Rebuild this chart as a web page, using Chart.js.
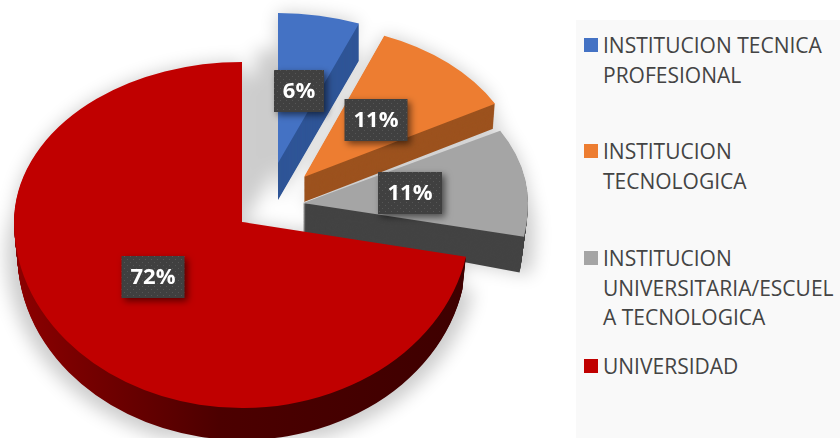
<!DOCTYPE html>
<html>
<head>
<meta charset="utf-8">
<script src="https://cdn.jsdelivr.net/npm/chart.js@4"></script>
<style>
  html, body { margin: 0; padding: 0; background: #fff; }
  #wrap { position: relative; width: 840px; height: 438px; overflow: hidden; }
  #pie { position: absolute; left: 0; top: 0; }
  #shadow { position: absolute; left: 0; top: 0; filter: blur(9px); opacity: 0.2; }
  #legend { position: absolute; left: 576px; top: 20px; width: 264px; height: 418px; background: #f9f9f9; }
  .item { position: absolute; left: 27px; font: 21px/29.5px "Open Sans", sans-serif; color: #444; white-space: nowrap; }
  .item i { position: absolute; left: -19px; top: 7px; width: 14px; height: 14px; }
</style>
</head>
<body>
<div id="wrap">
  <canvas id="shadow" width="840" height="438"></canvas>
  <canvas id="pie" width="840" height="438"></canvas>
  <div id="legend"></div>
</div>
<script>
// datos
const categories = ['INSTITUCION TECNICA PROFESIONAL', 'INSTITUCION TECNOLOGICA', 'INSTITUCION UNIVERSITARIA/ESCUELA TECNOLOGICA', 'UNIVERSIDAD'];
const values = [6, 11, 11, 72];
const legendLines = [
  ['INSTITUCION TECNICA', 'PROFESIONAL'],
  ['INSTITUCION', 'TECNOLOGICA'],
  ['INSTITUCION', 'UNIVERSITARIA/ESCUEL', 'A TECNOLOGICA'],
  ['UNIVERSIDAD'],
];

// estilo
const colors = ['#4472c4', '#ed7d31', '#a5a5a5', '#c00000'];
const sideColors = ['#2f5597', '#9c521e', '#434343', null];
const legendTops = [11, 117, 224, 332];

// porcion separada: desplazamiento desde el centro, radios de la elipse y grosor
const explodeX = [35, 61, 60, -1];
const explodeY = [-59, -45, -19, 0];
const radiusX = [220, 218, 225, 228];
const radiusUp = [150, 152, 150, 160];
const radiusDown = [150, 150, 180, 186];
const depth = [37, 25, 29, 32];
const shrinkX = [0, 0.01, 0.02, 0.015];
const growDown = [0, 0, 0.2, 0];
const labelX = [299, 376, 410, 153];
const labelY = [91, 120, 193, 277];
const labelW = [50, 63, 64, 63];

// leyenda
const legendEl = document.getElementById('legend');
legendLines.forEach((lines, i) => {
  const d = document.createElement('div');
  d.className = 'item';
  d.style.top = legendTops[i] + 'px';
  d.innerHTML = '<i style="background:' + colors[i] + '"></i>' + lines.join('<br>');
  legendEl.appendChild(d);
});

function drawSlice(ctx, el, i, t, fill, grow = 1, dx = 0, dy = 0) {
  const R = el.outerRadius;
  const ax = el.x + explodeX[i] + dx;
  const ay = el.y + explodeY[i] + depth[i] * t + dy;
  const sx = radiusX[i] / R * (1 - shrinkX[i] * t) * grow;
  const up = radiusUp[i] / R * grow;
  const down = radiusDown[i] / R * (1 + growDown[i] * t) * grow;
  const saved = el.options;
  el.options = Object.assign({}, saved, { backgroundColor: fill, borderWidth: 0 });
  // arriba y abajo del vertice la elipse tiene distinta altura (perspectiva)
  [[up, ay - 600, 600.5], [down, ay, 600]].forEach(([sy, top, h]) => {
    ctx.save();
    ctx.beginPath();
    ctx.rect(0, top, 840, h);
    ctx.clip();
    ctx.translate(ax, ay);
    ctx.scale(sx, sy);
    ctx.translate(-el.x, -el.y);
    el.draw(ctx);
    ctx.restore();
  });
  el.options = saved;
}

function dotPattern(ctx) {
  const c = document.createElement('canvas');
  c.width = 6; c.height = 6;
  const p = c.getContext('2d');
  p.fillStyle = '#404040';
  p.fillRect(0, 0, 6, 6);
  p.fillStyle = '#565656';
  p.fillRect(1, 1, 1, 1);
  p.fillRect(4, 4, 1, 1);
  return ctx.createPattern(c, 'repeat');
}

const pie3d = {
  id: 'pie3d',
  beforeDatasetsDraw(chart) {
    const ctx = chart.ctx;
    const arcs = chart.getDatasetMeta(0).data;
    // sombra difusa: silueta en el canvas de abajo, el css la desenfoca
    const sc = document.getElementById('shadow').getContext('2d');
    sc.clearRect(0, 0, 840, 438);
    arcs.forEach((el, i) => {
      drawSlice(sc, el, i, 0, '#000');
      drawSlice(sc, el, i, 1, '#000', 1.05);
    });
    // la sombra de la porcion azul llena el hueco junto a la roja
    drawSlice(sc, arcs[0], 0, 1, '#000', 1, -22, 0);
    drawSlice(sc, arcs[0], 0, 1, '#000', 1, -35, 25);

    arcs.forEach((el, i) => {
      let side = sideColors[i];
      if (!side) {
        side = ctx.createLinearGradient(el.x - el.outerRadius, 0, el.x + el.outerRadius, 0);
        side.addColorStop(0, '#8c0000');
        side.addColorStop(0.45, '#4c0000');
        side.addColorStop(1, '#3e0000');
      }
      for (let k = depth[i]; k > 0; k--) drawSlice(ctx, el, i, k / depth[i], side);
      drawSlice(ctx, el, i, 0, colors[i]);
    });
    return false;
  },
  afterDraw(chart) {
    const ctx = chart.ctx;
    const pattern = dotPattern(ctx);
    values.forEach((v, i) => {
      const w = labelW[i], h = 42;
      const x = labelX[i] - w / 2, y = labelY[i] - h / 2;
      ctx.save();
      ctx.shadowColor = 'rgba(0,0,0,0.55)';
      ctx.shadowBlur = 7;
      ctx.shadowOffsetX = 3;
      ctx.shadowOffsetY = 3;
      ctx.fillStyle = pattern;
      ctx.fillRect(x, y, w, h);
      ctx.restore();
      ctx.fillStyle = '#fff';
      ctx.font = 'bold 22px "Open Sans", sans-serif';
      ctx.textAlign = 'center';
      ctx.textBaseline = 'middle';
      ctx.fillText(v + '%', labelX[i], labelY[i] + 1);
    });
  },
};

new Chart(document.getElementById('pie'), {
  type: 'pie',
  data: {
    labels: categories,
    datasets: [{ data: values, backgroundColor: colors, borderWidth: 0 }],
  },
  options: {
    responsive: false,
    animation: false,
    layout: { padding: { top: 6, right: 354 } },
    plugins: { legend: { display: false }, tooltip: { enabled: false } },
  },
  plugins: [pie3d],
});
</script>
</body>
</html>
